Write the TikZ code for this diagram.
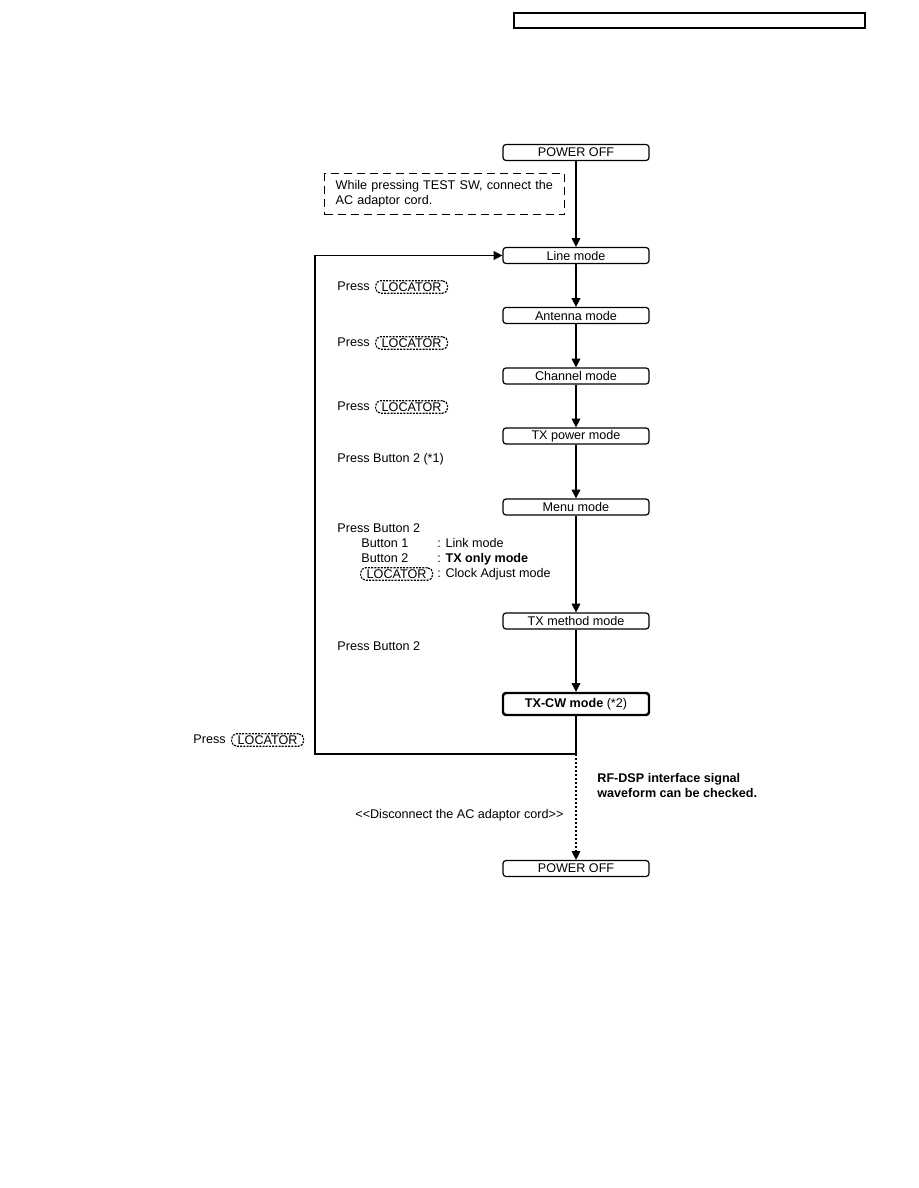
\documentclass[tikz,border=0pt]{standalone}
\usepackage{fontspec}
\setmainfont{Liberation Sans}
\usetikzlibrary{arrows.meta,positioning}

\begin{document}
\begin{tikzpicture}[x=0.5pt,y=-0.5pt,
        font=\fontsize{6.3}{7.5}\selectfont,
        mode/.style={draw, line width=0.6pt, rounded corners=1.5pt, minimum width=73pt, minimum height=8pt, inner sep=0pt},
        flow/.style={line width=0.6pt, -{Triangle[width=4.4pt,length=4.4pt]}},
        lbl/.style={anchor=west, inner sep=0pt, text height=4.6pt, text depth=1.3pt},
        locbtn/.style={draw, dash pattern=on 1pt off 0.6pt, line width=0.6pt, rounded corners=2.5pt, minimum width=36pt, minimum height=6.2pt, inner sep=0pt, text height=4.5pt, text depth=0.3pt}]
        \useasboundingbox (0,0) rectangle (918,1188);

        % Header strip
        \draw[line width=0.6pt] (514,13) rectangle (865,28);

        % Mode boxes
        \node[mode] (off1) at (576,152.5) {POWER OFF};
        \node[mode] (line) at (576,255.5) {Line mode};
        \node[mode] (ant) at (576,315.5) {Antenna mode};
        \node[mode] (chan) at (576,376) {Channel mode};
        \node[mode] (txp) at (576,436) {TX power mode};
        \node[mode] (menu) at (576,507) {Menu mode};
        \node[mode] (txm) at (576,621) {TX method mode};
        \node[mode, line width=1.2pt, minimum height=11pt] (cw) at (576,704) {\textbf{TX-CW mode} (*2)};
        \node[mode] (off2) at (576,868.5) {POWER OFF};

        % Note
        \node[draw, dash pattern=on 4pt off 2.5pt, line width=0.7pt, anchor=north west, text width=109pt, inner xsep=5.5pt,
              minimum height=20.5pt, align=left] (note) at (324,173) {While pressing TEST SW, connect the\\AC adaptor cord.};

        % Flow
        \draw[flow] (off1) -- (line);
        \draw[flow] (line) -- (ant);
        \draw[flow] (ant) -- (chan);
        \draw[flow] (chan) -- (txp);
        \draw[flow] (txp) -- (menu);
        \draw[flow] (menu) -- (txm);
        \draw[flow] (txm) -- (cw);

        % Loop back
        \coordinate (bend) at (576,754);
        \coordinate (corner) at (315,754);
        \draw[flow] (cw.south) -- (bend) -- (corner) |- (line.west);
        \draw[flow, dash pattern=on 1pt off 1pt] (bend) -- (off2.north);

        % Key labels
        \node[lbl] (p1) at (337,287) {Press};
        \node[locbtn, right=2.5pt of p1] (k1) {LOCATOR};
        \node[lbl] (p2) at (337,343) {Press};
        \node[locbtn, right=2.5pt of p2] (k2) {LOCATOR};
        \node[lbl] (p3) at (337,407) {Press};
        \node[locbtn, right=2.5pt of p3] (k3) {LOCATOR};
        \node[lbl] (p4) at (337,459) {Press Button 2 (*1)};

        \node[lbl] (p5) at (337,529) {Press Button 2};
        \node[lbl] (b1) at (361,544) {Button 1};
        \node[lbl] (m1) at (437,544) {: Link mode};
        \node[lbl] (b2) at (361,559) {Button 2};
        \node[lbl] (m2) at (437,559) {: \textbf{TX only mode}};
        \node[locbtn, anchor=west] (k4) at (360,574) {LOCATOR};
        \node[lbl] (m3) at (437,574) {: Clock Adjust mode};

        \node[lbl] (p6) at (337,647) {Press Button 2};
        \node[lbl] (p7) at (193,740) {Press};
        \node[locbtn, right=2.5pt of p7] (k5) {LOCATOR};

        \node[anchor=west, inner sep=0pt, align=left, font=\fontsize{6.3}{7.5}\selectfont\bfseries] (rf) at (597,785) {RF-DSP interface signal\\waveform can be checked.};
        \node[lbl] (disc) at (355,815) {<{}<Disconnect the AC adaptor cord>{}>};
\end{tikzpicture}
\end{document}
